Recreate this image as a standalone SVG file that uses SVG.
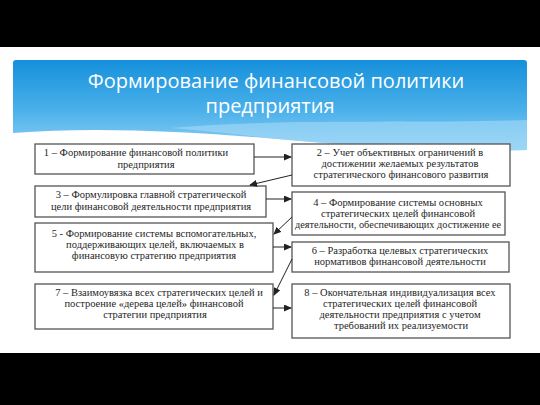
<svg xmlns="http://www.w3.org/2000/svg" width="540" height="405" viewBox="0 0 540 405">
  <defs>
    <linearGradient id="hdr" x1="0" y1="0" x2="0" y2="1">
      <stop offset="0" stop-color="#1590db"/>
      <stop offset="0.55" stop-color="#4ab0ea"/>
      <stop offset="1" stop-color="#8fd0f5"/>
    </linearGradient>
    <marker id="arr" markerWidth="8" markerHeight="7" refX="7" refY="3.5" orient="auto" markerUnits="userSpaceOnUse">
      <path d="M0,0 L8,3.5 L0,7 Z" fill="#222"/>
    </marker>
    <style>
      .box { fill: #ffffff; stroke: #555555; stroke-width: 1.3; }
      .t { font-family: "Liberation Serif", "Times New Roman", serif; font-size: 10.5px; fill: #262626; text-anchor: middle; }
      .title { font-family: "Open Sans", "Noto Sans", sans-serif; font-size: 20px; fill: #ffffff; text-anchor: middle; }
      .c { stroke: #222; stroke-width: 1; fill: none; marker-end: url(#arr); }
    </style>
  </defs>

  <rect x="0" y="0" width="540" height="405" fill="#ffffff"/>
  <rect x="0" y="0" width="540" height="47" fill="#000000"/>
  <rect x="0" y="353" width="540" height="52" fill="#000000"/>

  <g id="header">
    <path d="M16,60 H524 Q527,60 527,63 V150 C460,152 380,148 300,141 C200,132 100,126 13,133 V63 Q13,60 16,60 Z" fill="url(#hdr)"/>
    <path d="M170,128 C280,118 420,124 527,120 V150 C460,152 380,148 300,141 C250,136 210,131 170,128 Z" fill="#a9dcf7" opacity="0.55"/>
    <text class="title" x="276" y="88">Формирование финансовой политики</text>
    <text class="title" x="270" y="113">предприятия</text>
  </g>

  <g id="node1">
    <rect class="box" x="35" y="144" width="219" height="30"/>
    <text class="t" x="136" y="156">1 – Формирование финансовой политики</text>
    <text class="t" x="146" y="168">предприятия</text>
  </g>
  <g id="node3">
    <rect class="box" x="35" y="186" width="231" height="31"/>
    <text class="t" x="151" y="198">3 – Формулировка главной стратегической</text>
    <text class="t" x="151" y="210">цели финансовой деятельности предприятия</text>
  </g>
  <g id="node5">
    <rect class="box" x="35" y="223" width="238" height="49"/>
    <text class="t" x="154" y="237">5 - Формирование системы вспомогательных,</text>
    <text class="t" x="155" y="248">поддерживающих целей, включаемых в</text>
    <text class="t" x="154" y="259">финансовую стратегию предприятия</text>
  </g>
  <g id="node7">
    <rect class="box" x="35" y="284" width="238" height="45"/>
    <text class="t" x="159" y="296">7 – Взаимоувязка всех стратегических целей и</text>
    <text class="t" x="154" y="307">построение «дерева целей» финансовой</text>
    <text class="t" x="155" y="318">стратегии предприятия</text>
  </g>

  <g id="node2">
    <rect class="box" x="292" y="144" width="218" height="42"/>
    <text class="t" x="400" y="156">2 – Учет объективных ограничений в</text>
    <text class="t" x="400" y="167">достижении желаемых результатов</text>
    <text class="t" x="401" y="178">стратегического финансового развития</text>
  </g>
  <g id="node4">
    <rect class="box" x="292" y="192" width="213" height="43"/>
    <text class="t" x="398" y="206">4 – Формирование системы основных</text>
    <text class="t" x="398" y="217">стратегических целей финансовой</text>
    <text class="t" x="398" y="228" textLength="206" lengthAdjust="spacingAndGlyphs">деятельности, обеспечивающих достижение ее</text>
  </g>
  <g id="node6">
    <rect class="box" x="292" y="242" width="217" height="30"/>
    <text class="t" x="400" y="254">6 – Разработка целевых стратегических</text>
    <text class="t" x="400" y="265">нормативов финансовой деятельности</text>
  </g>
  <g id="node8">
    <rect class="box" x="292" y="284" width="218" height="54"/>
    <text class="t" x="400" y="296">8 – Окончательная индивидуализация всех</text>
    <text class="t" x="400" y="307">стратегических целей финансовой</text>
    <text class="t" x="400" y="318">деятельности предприятия с учетом</text>
    <text class="t" x="401" y="329">требований их реализуемости</text>
  </g>

  <g id="connectors">
    <line class="c" x1="254" y1="157" x2="291" y2="157"/>
    <line class="c" x1="292" y1="175" x2="250" y2="185"/>
    <line class="c" x1="266" y1="199" x2="291" y2="199"/>
    <line class="c" x1="292" y1="217" x2="274" y2="234"/>
    <line class="c" x1="273" y1="247" x2="291" y2="247"/>
    <line class="c" x1="292" y1="259" x2="274" y2="295"/>
    <line class="c" x1="273" y1="308" x2="291" y2="308"/>
  </g>
</svg>
